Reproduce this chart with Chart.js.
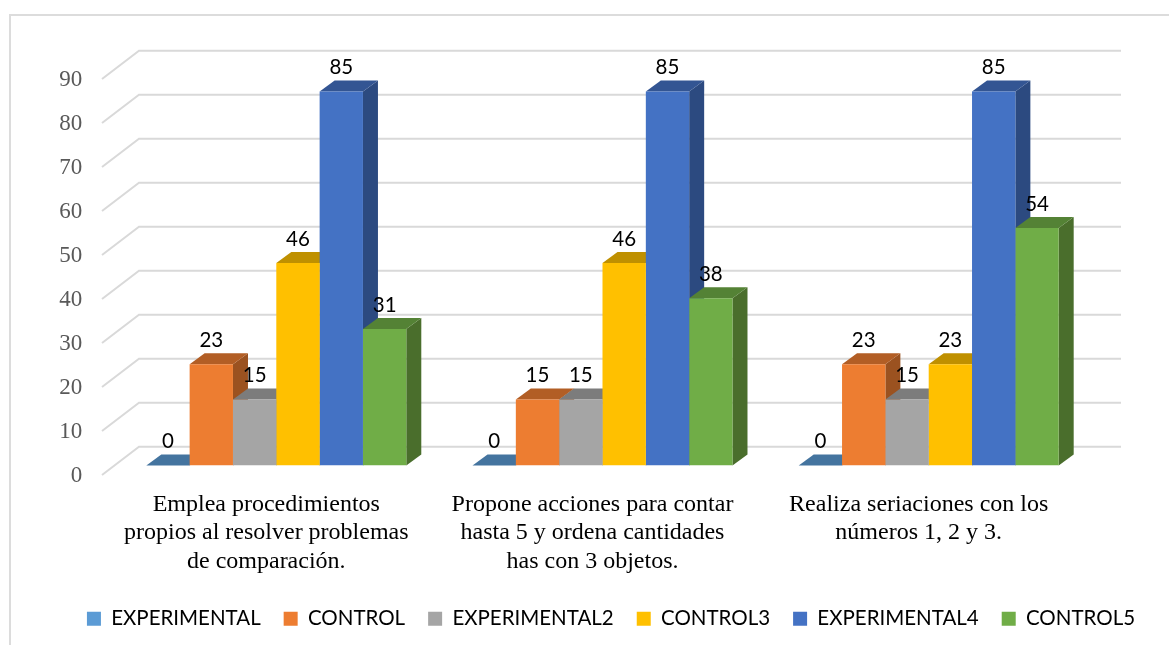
<!DOCTYPE html>
<html><head><meta charset="utf-8">
<style>
html,body{margin:0;padding:0;background:#fff;overflow:hidden}
#wrap{position:relative;width:1169px;height:645px}
#frame{position:absolute;left:9px;top:14px;width:1170px;height:650px;border:2px solid #dcdcdc;box-sizing:border-box}
canvas{position:absolute;left:0;top:0}
</style>
<script src="https://cdn.jsdelivr.net/npm/chart.js@4"></script>
</head><body>
<div id="wrap"><div id="frame"></div><canvas id="c" width="1169" height="645"></canvas></div>
<script>
const categories = [
  ["Emplea procedimientos","propios al resolver problemas","de comparación."],
  ["Propone acciones para contar","hasta 5 y ordena cantidades","has con 3 objetos."],
  ["Realiza seriaciones con los","números 1, 2 y 3."]
];
const experimental  = [0, 0, 0];
const control       = [23, 15, 23];
const experimental2 = [15, 15, 15];
const control3      = [46, 46, 23];
const experimental4 = [85, 85, 85];
const control5      = [31, 38, 54];
const seriesNames  = ["EXPERIMENTAL","CONTROL","EXPERIMENTAL2","CONTROL3","EXPERIMENTAL4","CONTROL5"];
const seriesValues = [experimental, control, experimental2, control3, experimental4, control5];
const frontColors = ["#5B9BD5","#ED7D31","#A5A5A5","#FFC000","#4472C4","#70AD47"];
const topColors   = ["#44749F","#B25E25","#7C7C7C","#BF9000","#335593","#548235"];
const sideColors  = ["#376089","#9B5220","#6A6A6A","#A67D00","#2C4A80","#4A6E2C"];

const DEPTH_X = 15, DEPTH_Y = 11;

const poly = (ctx, pts, color) => {
  ctx.beginPath();
  pts.forEach((p,i)=> i ? ctx.lineTo(p[0],p[1]) : ctx.moveTo(p[0],p[1]));
  ctx.closePath(); ctx.fillStyle = color; ctx.fill();
};

const wallGrid = {
  id:'wallGrid',
  beforeDatasetsDraw(chart){
    const {ctx} = chart, y = chart.scales.y;
    ctx.save();
    ctx.strokeStyle = '#D9D9D9'; ctx.lineWidth = 2;
    y.ticks.forEach(t=>{
      const py = y.getPixelForValue(t.value);
      ctx.beginPath();
      ctx.moveTo(102, py + 9.5);
      ctx.lineTo(139, py - 18.8);
      ctx.lineTo(1121, py - 18.8);
      ctx.stroke();
    });
    ctx.restore();
  }
};

const bar3d = {
  id:'bar3d',
  beforeDatasetsDraw(chart){
    const {ctx} = chart;
    ctx.save();
    for (let c = 0; c < categories.length; c++){
      for (let d = 0; d < seriesNames.length; d++){
        const b = chart.getDatasetMeta(d).data[c];
        const l = b.x - b.width/2, r = b.x + b.width/2, t = b.y, base = b.base;
        poly(ctx, [[r,t],[r+DEPTH_X,t-DEPTH_Y],[r+DEPTH_X,base-DEPTH_Y],[r,base]], sideColors[d]);
        poly(ctx, [[l,t],[l+DEPTH_X,t-DEPTH_Y],[r+DEPTH_X,t-DEPTH_Y],[r,t]], topColors[d]);
      }
    }
    ctx.restore();
  },
  afterDatasetsDraw(chart){
    const {ctx} = chart;
    ctx.save();
    ctx.font = '20.5px Lato'; ctx.fillStyle = '#000';
    ctx.textAlign = 'center'; ctx.textBaseline = 'middle';
    seriesValues.forEach((vals,d)=>{
      vals.forEach((v,c)=>{
        const b = chart.getDatasetMeta(d).data[c];
        ctx.fillText(String(v), b.x, b.y - 24);
      });
    });
    ctx.restore();
  }
};

new Chart(document.getElementById('c'), {
  type:'bar',
  data:{
    labels:categories,
    datasets:seriesNames.map((n,i)=>({label:n,data:seriesValues[i],backgroundColor:frontColors[i],borderWidth:0,categoryPercentage:0.797,barPercentage:1}))
  },
  plugins:[wallGrid,bar3d],
  options:{
    responsive:false,animation:false,
    layout:{padding:{left:53,right:0,top:69.5,bottom:6}},
    plugins:{
      tooltip:{enabled:false},
      legend:{position:'bottom',labels:{boxWidth:14,boxHeight:14,padding:23,color:'#000',font:{family:'Lato',size:20.5}}}
    },
    scales:{
      x:{
        grid:{display:false},border:{display:false},
        afterFit(s){s.height=120;},
        ticks:{autoSkip:false,maxRotation:0,minRotation:0,padding:16.7,labelOffset:-10,color:'#000',
          font:{family:'Liberation Serif',size:24,lineHeight:1.19}}
      },
      y:{
        min:0,max:90,
        grid:{display:false},border:{display:false},
        afterFit(s){s.width=60.2;},
        ticks:{stepSize:10,padding:23,labelOffset:10,color:'#595959',font:{family:'Liberation Serif',size:23}}
      },
      yR:{
        position:'right',display:true,min:0,max:90,
        grid:{display:false},border:{display:false},
        ticks:{display:false},
        afterFit(s){s.width=77.2;}
      }
    }
  }
});
</script>
</body></html>
